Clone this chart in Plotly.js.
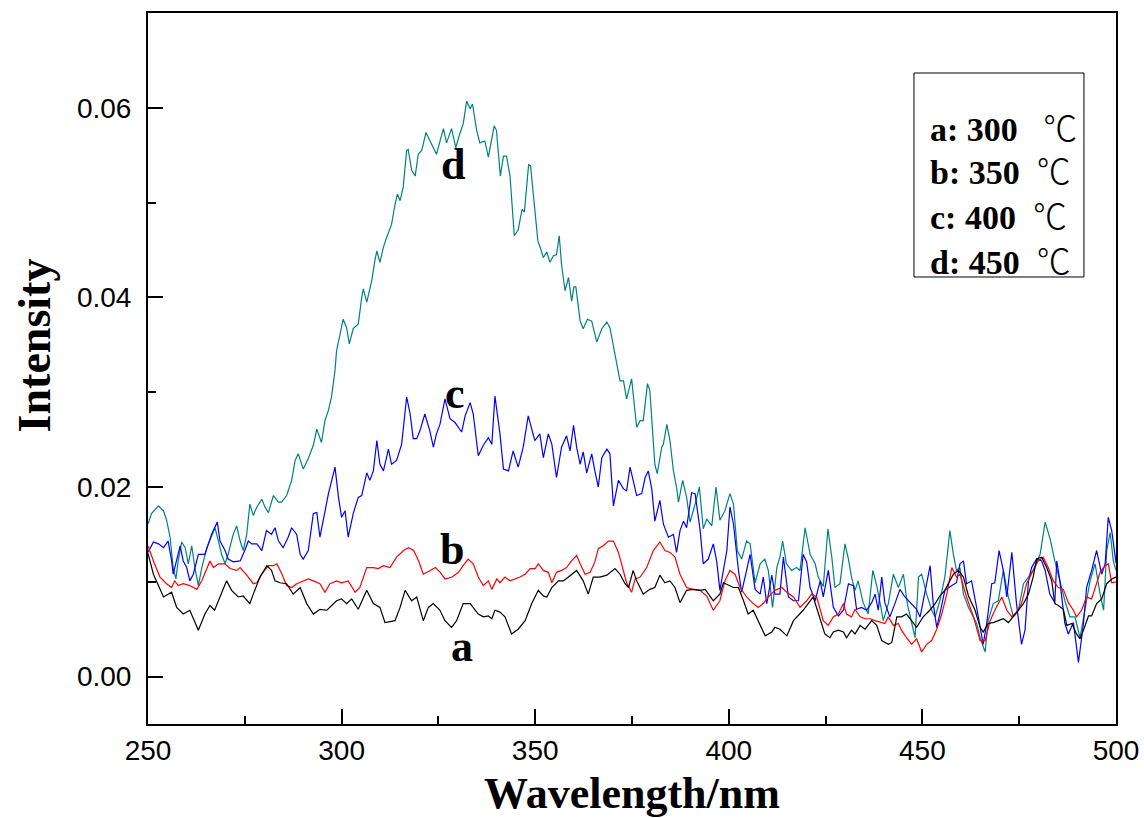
<!DOCTYPE html>
<html>
<head>
<meta charset="utf-8">
<script src="https://cdn.plot.ly/plotly-3.0.1.min.js"></script>
<style>html,body{margin:0;padding:0;background:#fff;}#chart{width:1144px;height:818px;}</style>
</head>
<body>
<div id="chart"></div>
<script>
// a: 300 ℃ (black)
const aX = [250.0,251.4,254.0,256.1,257.4,259.1,260.8,263.0,264.7,266.0,267.2,268.6,270.3,271.6,273.3,274.6,276.3,277.2,278.9,280.7,281.9,282.8,284.1,285.8,287.5,289.3,291.0,292.7,294.4,296.2,297.4,298.7,300.0,301.3,302.6,304.3,306.5,308.2,309.9,311.2,313.8,315.1,316.4,318.1,319.4,321.1,322.4,323.7,325.4,326.7,328.4,329.7,331.4,333.2,335.3,336.6,337.9,338.8,339.6,340.9,342.2,343.9,345.6,347.4,349.1,350.8,352.1,353.0,354.3,356.0,357.3,359.0,360.7,362.4,363.7,365.0,366.7,368.5,370.6,371.9,373.2,374.1,375.3,376.2,377.9,379.6,380.9,382.2,383.5,384.8,386.1,387.4,389.1,390.8,392.6,393.9,396.0,397.7,398.6,401.2,402.5,403.8,405.0,406.3,407.6,409.4,411.1,411.9,413.2,415.0,416.7,419.2,421.8,423.6,424.8,426.1,427.0,428.3,429.6,430.4,431.7,432.6,433.9,435.2,436.9,438.2,439.5,441.2,442.1,443.4,444.6,445.9,447.2,448.5,450.2,451.9,453.3,454.5,455.8,457.1,458.0,459.3,460.6,461.9,463.6,464.9,465.7,467.0,468.3,469.6,470.9,472.2,473.5,474.8,476.1,477.4,478.6,479.5,480.8,482.1,483.4,484.2,485.1,486.4,487.3,488.6,489.8,490.7,491.6,492.9,493.7,495.0,496.3,497.6,498.9,500.0];
const aY = [0.0130,0.0108,0.0084,0.0089,0.0073,0.0066,0.0070,0.0049,0.0066,0.0075,0.0070,0.0084,0.0101,0.0091,0.0084,0.0085,0.0077,0.0087,0.0105,0.0117,0.0112,0.0101,0.0099,0.0098,0.0087,0.0094,0.0077,0.0066,0.0071,0.0070,0.0075,0.0080,0.0082,0.0077,0.0082,0.0071,0.0091,0.0077,0.0073,0.0057,0.0059,0.0073,0.0091,0.0080,0.0084,0.0059,0.0073,0.0077,0.0070,0.0059,0.0052,0.0059,0.0077,0.0077,0.0066,0.0063,0.0064,0.0061,0.0070,0.0068,0.0063,0.0045,0.0050,0.0059,0.0077,0.0091,0.0085,0.0084,0.0094,0.0101,0.0101,0.0107,0.0112,0.0101,0.0087,0.0105,0.0105,0.0107,0.0114,0.0108,0.0098,0.0094,0.0112,0.0101,0.0087,0.0092,0.0094,0.0107,0.0099,0.0101,0.0094,0.0078,0.0091,0.0092,0.0091,0.0092,0.0080,0.0087,0.0099,0.0094,0.0094,0.0080,0.0066,0.0070,0.0059,0.0043,0.0047,0.0052,0.0050,0.0043,0.0059,0.0070,0.0084,0.0060,0.0045,0.0041,0.0047,0.0049,0.0047,0.0041,0.0049,0.0045,0.0054,0.0050,0.0059,0.0054,0.0038,0.0034,0.0036,0.0063,0.0063,0.0066,0.0059,0.0052,0.0063,0.0070,0.0077,0.0085,0.0091,0.0101,0.0108,0.0112,0.0105,0.0085,0.0070,0.0052,0.0047,0.0056,0.0057,0.0059,0.0061,0.0057,0.0063,0.0070,0.0077,0.0087,0.0105,0.0124,0.0126,0.0115,0.0101,0.0077,0.0075,0.0071,0.0054,0.0056,0.0045,0.0040,0.0049,0.0064,0.0064,0.0077,0.0082,0.0098,0.0103,0.0105];

// b: 350 ℃ (red)
const bX = [250.0,251.4,253.1,254.8,256.1,256.9,257.8,259.1,260.8,262.6,263.9,265.2,266.0,266.9,268.2,269.9,271.2,272.9,273.8,275.5,277.2,278.1,279.4,281.1,282.4,283.3,284.6,285.8,287.1,288.4,290.1,291.4,292.7,294.4,295.7,297.0,298.7,300.0,301.7,303.5,304.7,306.5,308.2,309.5,310.8,312.5,314.2,316.0,317.3,318.6,319.9,321.1,322.9,324.2,325.5,326.7,328.5,330.2,331.4,332.7,334.0,335.3,336.6,337.9,338.8,340.1,340.9,342.2,343.5,344.8,346.1,347.4,348.7,350.0,350.8,352.1,353.4,354.3,355.5,356.8,358.1,359.4,360.7,361.6,362.9,364.2,365.4,366.3,367.6,368.9,370.2,371.5,372.8,373.6,374.9,375.8,377.1,378.8,380.5,382.2,383.5,384.8,386.1,387.4,389.1,390.8,392.6,394.3,396.0,397.7,399.0,400.3,401.6,402.9,404.6,406.3,407.6,408.9,410.2,411.9,413.7,415.0,416.7,418.4,420.1,421.4,422.7,423.6,424.4,425.7,427.0,428.3,429.6,430.4,431.7,432.6,433.9,435.2,436.5,437.8,439.1,440.3,441.2,442.5,443.8,444.6,445.9,447.2,448.5,449.8,451.1,452.4,453.7,455.0,456.3,457.6,458.8,459.7,461.4,463.2,464.9,466.2,467.5,468.7,470.5,471.8,473.1,474.3,475.6,476.9,478.6,479.9,481.2,482.5,483.8,485.1,486.4,487.7,489.0,489.8,491.1,492.4,493.7,494.6,495.9,497.2,498.0,498.9,500.0];
const bY = [0.0138,0.0122,0.0105,0.0098,0.0094,0.0101,0.0096,0.0098,0.0096,0.0092,0.0101,0.0114,0.0122,0.0115,0.0119,0.0119,0.0114,0.0112,0.0115,0.0107,0.0098,0.0099,0.0108,0.0117,0.0117,0.0119,0.0108,0.0096,0.0094,0.0098,0.0101,0.0103,0.0101,0.0098,0.0089,0.0098,0.0101,0.0099,0.0101,0.0089,0.0094,0.0115,0.0115,0.0114,0.0117,0.0115,0.0126,0.0133,0.0136,0.0133,0.0122,0.0108,0.0112,0.0115,0.0110,0.0103,0.0105,0.0110,0.0117,0.0124,0.0119,0.0105,0.0096,0.0101,0.0092,0.0103,0.0099,0.0105,0.0101,0.0103,0.0105,0.0108,0.0114,0.0114,0.0119,0.0112,0.0110,0.0099,0.0110,0.0112,0.0115,0.0122,0.0128,0.0119,0.0108,0.0110,0.0121,0.0135,0.0138,0.0143,0.0143,0.0131,0.0112,0.0099,0.0089,0.0103,0.0105,0.0115,0.0133,0.0142,0.0133,0.0131,0.0126,0.0108,0.0094,0.0092,0.0091,0.0085,0.0070,0.0080,0.0101,0.0112,0.0108,0.0094,0.0084,0.0077,0.0073,0.0077,0.0084,0.0091,0.0094,0.0089,0.0084,0.0073,0.0080,0.0087,0.0084,0.0071,0.0059,0.0054,0.0063,0.0066,0.0077,0.0066,0.0063,0.0071,0.0063,0.0061,0.0061,0.0059,0.0057,0.0056,0.0063,0.0054,0.0056,0.0049,0.0041,0.0034,0.0040,0.0026,0.0034,0.0038,0.0050,0.0066,0.0087,0.0115,0.0105,0.0108,0.0084,0.0063,0.0038,0.0038,0.0059,0.0070,0.0084,0.0070,0.0063,0.0068,0.0077,0.0098,0.0112,0.0122,0.0126,0.0115,0.0101,0.0094,0.0092,0.0078,0.0070,0.0063,0.0070,0.0084,0.0082,0.0094,0.0110,0.0117,0.0119,0.0099,0.0100];

// c: 400 ℃ (blue)
const cX = [250.0,251.4,252.7,254.0,255.2,256.1,256.5,257.4,258.3,259.1,260.0,260.8,261.7,263.0,264.7,265.6,266.4,267.9,268.6,269.9,270.7,272.0,273.8,275.0,275.9,276.8,278.1,279.4,280.6,281.9,282.8,283.7,284.9,286.2,287.1,288.4,289.3,290.1,291.4,292.7,293.6,294.4,295.3,296.6,298.3,299.2,300.0,300.9,301.7,303.0,304.3,305.2,306.5,307.3,308.2,309.1,309.9,310.8,312.1,312.9,314.2,315.5,316.8,317.7,318.5,319.4,320.2,321.5,322.8,323.7,324.5,325.4,326.7,328.0,329.3,331.0,331.9,333.2,334.0,335.3,336.6,337.9,338.8,339.6,340.9,341.8,343.1,344.3,345.6,346.9,348.2,349.9,351.2,352.1,353.4,354.3,355.5,356.8,358.1,359.0,359.9,360.7,361.6,362.4,363.3,364.6,365.4,366.3,367.2,368.5,369.3,370.2,371.5,372.8,373.6,374.5,375.3,376.2,377.5,378.4,379.2,380.1,380.9,382.2,383.1,384.4,385.7,386.5,387.4,388.3,389.1,390.4,391.3,392.6,393.4,394.7,396.0,396.9,397.7,399.5,400.3,401.2,402.5,403.3,404.6,405.5,406.8,408.1,408.9,409.8,411.1,411.9,413.2,414.1,415.4,416.7,418.0,419.2,420.1,421.0,422.3,423.6,424.4,425.7,427.0,428.3,429.6,430.9,432.2,433.0,434.3,435.6,436.9,437.8,438.6,439.5,440.3,441.6,442.9,444.2,445.5,446.8,448.5,449.4,450.7,452.0,452.8,453.7,454.5,455.8,457.6,458.8,459.7,460.6,461.4,462.7,464.0,464.9,465.7,466.6,467.9,468.7,469.8,470.9,471.8,473.1,474.3,475.6,476.5,477.4,478.2,479.5,480.8,481.7,482.9,484.2,484.7,485.5,486.8,487.7,489.0,490.3,491.6,492.4,493.7,495.0,496.3,497.2,498.0,498.9,499.7,500.0];
const cY = [0.0131,0.0142,0.0140,0.0136,0.0143,0.0122,0.0108,0.0122,0.0138,0.0122,0.0115,0.0101,0.0108,0.0129,0.0129,0.0140,0.0150,0.0163,0.0143,0.0133,0.0124,0.0121,0.0122,0.0133,0.0143,0.0140,0.0140,0.0133,0.0154,0.0150,0.0157,0.0143,0.0136,0.0147,0.0157,0.0150,0.0129,0.0124,0.0133,0.0172,0.0173,0.0147,0.0165,0.0193,0.0221,0.0189,0.0168,0.0175,0.0147,0.0172,0.0189,0.0191,0.0215,0.0207,0.0217,0.0249,0.0224,0.0217,0.0240,0.0224,0.0228,0.0245,0.0295,0.0277,0.0251,0.0251,0.0259,0.0277,0.0259,0.0242,0.0256,0.0266,0.0293,0.0272,0.0268,0.0258,0.0275,0.0289,0.0277,0.0233,0.0244,0.0252,0.0245,0.0296,0.0256,0.0219,0.0217,0.0238,0.0221,0.0242,0.0275,0.0249,0.0256,0.0231,0.0256,0.0245,0.0210,0.0242,0.0254,0.0238,0.0265,0.0242,0.0224,0.0237,0.0215,0.0235,0.0217,0.0200,0.0231,0.0240,0.0235,0.0180,0.0207,0.0198,0.0196,0.0221,0.0207,0.0191,0.0193,0.0210,0.0217,0.0198,0.0164,0.0186,0.0161,0.0147,0.0150,0.0131,0.0154,0.0164,0.0157,0.0194,0.0193,0.0154,0.0119,0.0124,0.0140,0.0121,0.0091,0.0133,0.0179,0.0161,0.0112,0.0089,0.0112,0.0129,0.0092,0.0087,0.0105,0.0077,0.0107,0.0087,0.0087,0.0126,0.0084,0.0080,0.0080,0.0129,0.0121,0.0094,0.0080,0.0101,0.0084,0.0112,0.0073,0.0064,0.0070,0.0098,0.0096,0.0071,0.0073,0.0070,0.0078,0.0087,0.0070,0.0105,0.0078,0.0063,0.0077,0.0092,0.0084,0.0078,0.0071,0.0063,0.0091,0.0117,0.0077,0.0052,0.0066,0.0091,0.0096,0.0099,0.0119,0.0122,0.0098,0.0101,0.0073,0.0052,0.0034,0.0056,0.0098,0.0099,0.0133,0.0112,0.0084,0.0131,0.0077,0.0034,0.0049,0.0101,0.0115,0.0124,0.0122,0.0112,0.0087,0.0078,0.0122,0.0101,0.0056,0.0045,0.0057,0.0015,0.0056,0.0094,0.0112,0.0133,0.0108,0.0119,0.0168,0.0154,0.0126,0.0120];

// d: 450 ℃ (teal)
const dX = [250.0,250.9,252.7,254.0,254.8,255.7,256.5,257.2,257.8,258.7,259.6,260.4,261.3,262.1,263.0,263.9,265.2,266.4,267.3,268.2,269.0,269.9,270.7,272.0,272.9,273.8,274.6,275.5,276.3,277.2,278.1,279.4,280.2,281.1,282.4,283.7,284.5,285.8,287.1,288.0,288.8,290.1,291.4,292.7,293.6,294.8,295.7,296.6,297.4,298.3,298.7,299.6,300.4,301.3,302.0,303.0,304.3,305.2,305.6,306.5,307.8,308.6,309.1,309.9,310.8,311.6,312.9,313.8,314.4,315.1,315.9,316.8,317.2,318.1,319.0,319.8,320.7,321.8,322.8,324.5,326.3,327.1,328.4,329.5,330.4,331.4,332.3,333.2,333.8,334.9,335.7,337.0,337.9,339.4,340.0,341.0,341.8,342.6,343.5,344.6,345.6,346.6,347.2,348.3,348.8,349.5,350.7,351.2,352.1,353.0,353.8,354.7,355.5,356.2,356.8,357.7,358.6,359.4,360.0,360.5,361.6,362.4,363.5,364.6,365.9,367.2,368.5,369.3,370.6,371.9,372.8,373.6,374.9,376.2,377.1,377.9,379.0,379.6,380.9,381.5,382.7,383.1,384.0,384.8,385.7,386.5,387.0,388.1,389.1,390.0,391.3,392.4,393.4,394.3,395.6,396.7,397.7,399.0,400.3,401.2,402.2,403.3,404.6,405.5,406.8,408.1,409.3,410.2,411.3,412.4,413.2,413.9,414.9,416.2,417.5,418.4,419.7,421.0,422.3,423.1,424.4,425.6,426.6,427.4,428.7,430.0,430.9,431.7,432.6,433.4,434.7,436.0,437.2,438.2,439.1,439.9,441.2,442.5,443.8,445.1,446.1,447.2,448.1,449.0,449.8,451.1,452.4,453.3,454.5,455.8,457.1,458.0,458.8,459.7,460.6,461.9,464.0,464.9,466.2,467.0,468.3,469.6,470.9,472.2,473.5,474.8,476.1,477.4,478.6,480.4,481.7,483.0,484.2,485.5,486.8,488.1,489.4,490.7,492.0,493.3,494.6,495.9,496.8,497.6,498.5,499.3,500.0];
const dY = [0.0161,0.0172,0.0180,0.0175,0.0165,0.0147,0.0115,0.0103,0.0122,0.0142,0.0136,0.0119,0.0138,0.0115,0.0096,0.0115,0.0136,0.0147,0.0157,0.0143,0.0129,0.0119,0.0129,0.0150,0.0159,0.0143,0.0133,0.0150,0.0182,0.0170,0.0179,0.0187,0.0179,0.0173,0.0191,0.0184,0.0184,0.0191,0.0207,0.0228,0.0235,0.0219,0.0230,0.0244,0.0261,0.0247,0.0270,0.0281,0.0295,0.0323,0.0344,0.0361,0.0377,0.0368,0.0351,0.0367,0.0372,0.0400,0.0409,0.0395,0.0418,0.0439,0.0449,0.0437,0.0453,0.0463,0.0477,0.0498,0.0509,0.0502,0.0516,0.0555,0.0556,0.0534,0.0528,0.0551,0.0555,0.0574,0.0565,0.0551,0.0578,0.0563,0.0578,0.0558,0.0571,0.0583,0.0607,0.0599,0.0604,0.0576,0.0563,0.0565,0.0548,0.0581,0.0576,0.0528,0.0549,0.0549,0.0528,0.0465,0.0471,0.0493,0.0490,0.0540,0.0539,0.0510,0.0459,0.0454,0.0442,0.0448,0.0437,0.0444,0.0445,0.0465,0.0435,0.0407,0.0421,0.0396,0.0411,0.0411,0.0375,0.0367,0.0377,0.0375,0.0353,0.0367,0.0374,0.0368,0.0340,0.0312,0.0312,0.0293,0.0314,0.0263,0.0270,0.0270,0.0309,0.0302,0.0224,0.0214,0.0242,0.0245,0.0266,0.0249,0.0217,0.0200,0.0184,0.0207,0.0189,0.0163,0.0182,0.0200,0.0156,0.0166,0.0159,0.0200,0.0165,0.0175,0.0193,0.0182,0.0133,0.0124,0.0143,0.0140,0.0099,0.0119,0.0124,0.0112,0.0073,0.0115,0.0126,0.0143,0.0119,0.0112,0.0115,0.0112,0.0157,0.0129,0.0119,0.0105,0.0095,0.0156,0.0126,0.0094,0.0098,0.0140,0.0124,0.0105,0.0091,0.0101,0.0078,0.0066,0.0112,0.0096,0.0077,0.0059,0.0077,0.0108,0.0094,0.0108,0.0077,0.0056,0.0041,0.0105,0.0108,0.0087,0.0070,0.0063,0.0080,0.0105,0.0154,0.0129,0.0112,0.0115,0.0087,0.0073,0.0056,0.0041,0.0026,0.0059,0.0077,0.0080,0.0112,0.0084,0.0063,0.0070,0.0098,0.0105,0.0112,0.0129,0.0163,0.0145,0.0122,0.0101,0.0080,0.0063,0.0063,0.0041,0.0070,0.0101,0.0119,0.0087,0.0070,0.0133,0.0152,0.0122,0.0112];

const seriesNames = ['a: 300 \u2103','b: 350 \u2103','c: 400 \u2103','d: 450 \u2103'];
const legendLetters = ['a','b','c','d'];
const legendTemps = ['300','350','400','450'];
const curveLabelX = [331.1, 328.5, 329.3, 328.8];
const curveLabelY = [0.0032, 0.0134, 0.0299, 0.0540];

const serif = 'Liberation Serif, Times New Roman, serif';
const sans = 'Liberation Sans, Arial, sans-serif';

const traces = [
  {x: dX, y: dY, name: seriesNames[3], type: 'scatter', mode: 'lines', line: {color: '#008080', width: 1.2}},
  {x: cX, y: cY, name: seriesNames[2], type: 'scatter', mode: 'lines', line: {color: '#0000ff', width: 1.2}},
  {x: bX, y: bY, name: seriesNames[1], type: 'scatter', mode: 'lines', line: {color: '#ff0000', width: 1.2}},
  {x: aX, y: aY, name: seriesNames[0], type: 'scatter', mode: 'lines', line: {color: '#000000', width: 1.2}}
];

const annotations = [];
for (let i = 0; i < 4; i++) {
  annotations.push({
    x: curveLabelX[i], y: curveLabelY[i], xref: 'x', yref: 'y',
    text: '<b>' + legendLetters[i] + '</b>', showarrow: false,
    xanchor: 'center', yanchor: 'middle',
    font: {family: serif, size: 44, color: '#000'}
  });
}
const legendRowY = [0.8397, 0.7792, 0.7159, 0.6540];
for (let i = 0; i < 4; i++) {
  const gap = i === 0 ? '\u00a0\u00a0\u00a0' : '\u00a0\u00a0';
  annotations.push({
    x: 0.8058, y: legendRowY[i], xref: 'paper', yref: 'paper',
    xanchor: 'left', yanchor: 'middle', showarrow: false,
    text: '<b>' + legendLetters[i] + ':\u00a0' + legendTemps[i] + '</b>' + gap +
          '<span style="font-family:\'Noto Sans CJK SC\';font-weight:300">\u2103</span>',
    font: {family: serif, size: 34, color: '#000'}
  });
}

const layout = {
  width: 1144, height: 818,
  margin: {l: 148, r: 28, t: 13, b: 94, autoexpand: false},
  paper_bgcolor: '#fff', plot_bgcolor: '#fff',
  showlegend: false,
  xaxis: {
    range: [250, 500], dtick: 50, tick0: 250,
    ticks: 'inside', ticklen: 15, tickwidth: 2, tickcolor: '#000',
    minor: {ticks: 'inside', ticklen: 8, tickwidth: 2, tickcolor: '#000', dtick: 25},
    showline: true, linewidth: 2, linecolor: '#000', mirror: true,
    showgrid: false, zeroline: false,
    tickfont: {family: sans, size: 28, color: '#000'},
    ticklabelstandoff: 0,
    title: {text: '<b>Wavelength/nm</b>', font: {family: serif, size: 44, color: '#000'}, standoff: 14}
  },
  yaxis: {
    range: [-0.005, 0.07], dtick: 0.02, tick0: 0, tickformat: '.2f',
    ticks: 'inside', ticklen: 15, tickwidth: 2, tickcolor: '#000',
    minor: {ticks: 'inside', ticklen: 8, tickwidth: 2, tickcolor: '#000', dtick: 0.01},
    showline: true, linewidth: 2, linecolor: '#000', mirror: true,
    showgrid: false, zeroline: false,
    tickfont: {family: sans, size: 28, color: '#000'},
    ticklabelstandoff: 9,
    title: {text: '<b>\u00a0\u00a0\u00a0\u00a0Intensity</b>', font: {family: serif, size: 46, color: '#000'}, standoff: 12}
  },
  shapes: [{
    type: 'rect', xref: 'paper', yref: 'paper',
    x0: 0.7913, x1: 0.9669, y0: 0.6287, y1: 0.9156,
    line: {color: '#000', width: 1}, fillcolor: 'rgba(0,0,0,0)'
  }],
  annotations: annotations
};

Plotly.newPlot('chart', traces, layout, {displayModeBar: false, staticPlot: true});
</script>
</body>
</html>
